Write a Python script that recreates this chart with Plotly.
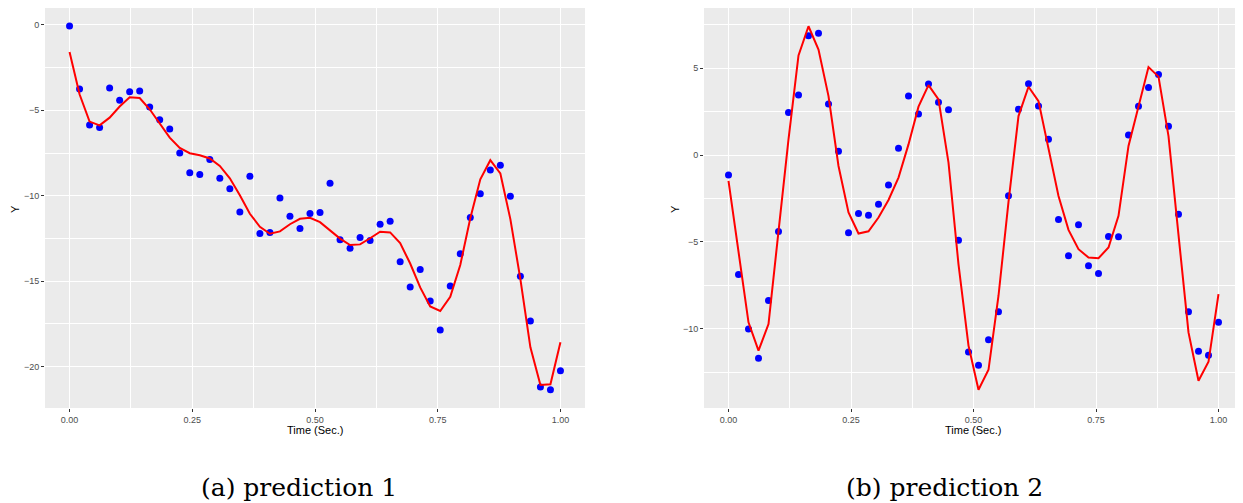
import numpy as np
import plotly.graph_objects as go

# time grid (50 samples on [0, 1])
time_sec = np.linspace(0, 1, 50)

# prediction 1: observed points and fitted curve
obs_1 = [
    -0.07, -3.75, -5.86, -6.01, -3.69, -4.41, -3.91, -3.87, -4.80, -5.55,
    -6.09, -7.50, -8.65, -8.76, -7.88, -8.98, -9.60, -10.96, -8.86, -12.21,
    -12.15, -10.13, -11.20, -11.92, -11.04, -10.98, -9.27, -12.58, -13.08, -12.45,
    -12.62, -11.67, -11.49, -13.87, -15.35, -14.32, -16.17, -17.87, -15.29, -13.40,
    -11.28, -9.89, -8.49, -8.22, -10.03, -14.71, -17.34, -21.20, -21.36, -20.25,
]
fit_1 = [
    -1.59, -4.06, -5.66, -5.88, -5.43, -4.78, -4.24, -4.28, -4.94, -5.76,
    -6.60, -7.20, -7.51, -7.63, -7.82, -8.26, -8.98, -9.97, -11.06, -11.82,
    -12.23, -12.09, -11.67, -11.35, -11.29, -11.55, -12.02, -12.51, -12.89, -12.85,
    -12.49, -12.11, -12.15, -12.78, -13.97, -15.37, -16.48, -16.75, -15.92, -14.06,
    -11.32, -9.04, -7.92, -8.70, -11.37, -14.88, -18.88, -21.08, -21.04, -18.58,
]

# prediction 2
obs_2 = [
    -1.15, -6.87, -10.02, -11.70, -8.37, -4.40, 2.44, 3.45, 6.86, 7.01,
    2.93, 0.21, -4.48, -3.37, -3.47, -2.83, -1.72, 0.39, 3.39, 2.36,
    4.08, 3.03, 2.61, -4.91, -11.34, -12.10, -10.63, -9.02, -2.34, 2.63,
    4.10, 2.82, 0.90, -3.71, -5.80, -4.02, -6.38, -6.82, -4.69, -4.71,
    1.15, 2.80, 3.89, 4.64, 1.65, -3.41, -9.02, -11.30, -11.53, -9.63,
]
fit_2 = [
    -1.49, -5.50, -9.63, -11.26, -9.73, -4.40, 0.90, 5.73, 7.41, 6.07,
    3.39, -0.63, -3.31, -4.52, -4.39, -3.60, -2.59, -1.30, 0.61, 2.78,
    4.02, 3.20, -0.44, -6.30, -10.97, -13.51, -12.36, -8.10, -2.70, 2.24,
    3.93, 3.10, 0.42, -2.36, -4.31, -5.42, -5.90, -5.94, -5.32, -3.50,
    0.52, 2.86, 5.06, 4.51, 1.09, -4.60, -10.21, -12.99, -11.90, -8.01,
]

x_ticks = [0, 0.25, 0.5, 0.75, 1.0]
x_tick_text = ["0.00", "0.25", "0.50", "0.75", "1.00"]
captions = ["(a) prediction 1", "(b) prediction 2"]

# the page body keeps its default 8px margin, so the figure is drawn
# 8px smaller and all page positions are shifted by that offset
OFF = 8
W, H = 1243 - OFF, 503 - OFF
BG = "#EBEBEB"
TICK_FONT = dict(family="Liberation Sans, Arial, sans-serif", size=9, color="#4D4D4D")
TITLE_FONT = dict(family="Liberation Sans, Arial, sans-serif", size=11, color="black")


def px_x(px):
    return (px - OFF) / W


def px_y(py):
    return 1 - (py - OFF) / H


fig = go.Figure()

panels = [
    (obs_1, fit_1, "x", "y"),
    (obs_2, fit_2, "x2", "y2"),
]
for obs, fit, xa, ya in panels:
    fig.add_trace(go.Scatter(
        x=time_sec, y=obs, mode="markers", xaxis=xa, yaxis=ya,
        marker=dict(color="#0000FF", size=7), showlegend=False,
    ))
    fig.add_trace(go.Scatter(
        x=time_sec, y=fit, mode="lines", xaxis=xa, yaxis=ya,
        line=dict(color="#FF0000", width=2), showlegend=False,
    ))


def xaxis_style(domain, anchor):
    return dict(
        domain=domain, anchor=anchor, range=[-0.05, 1.05],
        tickvals=x_ticks, ticktext=x_tick_text, tickfont=TICK_FONT,
        ticks="outside", ticklen=3, tickcolor="#333333", tickwidth=1,
        showgrid=True, gridcolor="white", gridwidth=1.1, zeroline=False,
        showline=False,
        minor=dict(dtick=0.125, tick0=0, showgrid=True, gridcolor="white",
                   gridwidth=0.5, ticklen=0),
    )


def yaxis_style(domain, anchor, rng, dtick):
    return dict(
        domain=domain, anchor=anchor, range=rng, dtick=dtick, tick0=0,
        tickfont=TICK_FONT, ticks="outside", ticklen=3, tickcolor="#333333",
        tickwidth=1, showgrid=True, gridcolor="white", gridwidth=1.1,
        zeroline=False, showline=False,
        minor=dict(dtick=dtick / 2, tick0=0, showgrid=True, gridcolor="white",
                   gridwidth=0.5, ticklen=0),
    )


y_dom = [px_y(408), px_y(8)]
fig.update_layout(
    width=W, height=H,
    margin=dict(l=0, r=0, t=0, b=0),
    paper_bgcolor="white", plot_bgcolor=BG,
    xaxis=xaxis_style([px_x(45), px_x(585)], "y"),
    yaxis=yaxis_style(y_dom, "x", [-22.43, 0.99], 5),
    xaxis2=xaxis_style([px_x(704), 1.0], "y2"),
    yaxis2=yaxis_style(y_dom, "x2", [-14.56, 8.46], 5),
)

# axis titles
for cx in (315, 973):
    fig.add_annotation(x=px_x(cx), y=px_y(430), xref="paper", yref="paper",
                       text="Time (Sec.)", showarrow=False, font=TITLE_FONT,
                       xanchor="center", yanchor="middle")
for cx in (15, 675):
    fig.add_annotation(x=px_x(cx), y=px_y(209), xref="paper", yref="paper",
                       text="Y", showarrow=False, font=TITLE_FONT, textangle=-90,
                       xanchor="center", yanchor="middle")

# sub-figure captions
for cx, cap in zip((299, 944), captions):
    fig.add_annotation(x=px_x(cx), y=px_y(487), xref="paper", yref="paper",
                       text=cap, showarrow=False,
                       font=dict(family="DejaVu Serif, serif", size=25, color="black"),
                       xanchor="center", yanchor="middle")

fig.write_html("out.html")
